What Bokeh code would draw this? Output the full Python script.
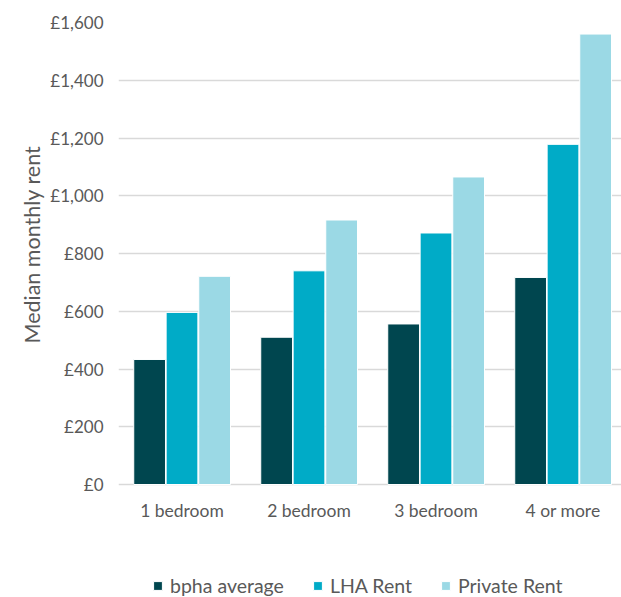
import numpy as np
from bokeh.plotting import figure
from bokeh.models import Range1d, FixedTicker, Legend, LegendItem, Title
from bokeh.core.properties import value
from bokeh.embed import file_html
from bokeh.resources import INLINE

categories = ["1 bedroom", "2 bedroom", "3 bedroom", "4 or more"]
bpha_average = [433, 510, 556, 717]
lha_rent = [596, 740, 871, 1178]
private_rent = [721, 916, 1065, 1560]
series_names = ["bpha average", "LHA Rent", "Private Rent"]
series_colors = ["#00464F", "#00ABC7", "#9BD9E5"]
y_ticks = [0, 200, 400, 600, 800, 1000, 1200, 1400, 1600]
y_tick_labels = ["£0", "£200", "£400", "£600", "£800", "£1,000", "£1,200", "£1,400", "£1,600"]

FONT = "Lato"
TXT = "#595959"
GRID = "#D9D9D9"

W, H = 621, 597
TOP, LEFT = 22, 118
PX_PER_UNIT = 462.0 / 1600.0  # vertical pixels per pound
frame_h = H - TOP
y_min = -(frame_h - 1600 * PX_PER_UNIT) / PX_PER_UNIT
x_max = -0.5 + (W - LEFT) / 127.0

p = figure(width=W, height=H, output_backend="svg", toolbar_location=None,
           x_range=Range1d(-0.5, x_max), y_range=Range1d(y_min, 1600),
           x_axis_location=None,
           min_border_left=LEFT, min_border_right=0, min_border_top=TOP, min_border_bottom=0)
p.outline_line_color = None
p.background_fill_color = "white"

idx = np.arange(len(categories))
offsets = [-0.255, 0.0, 0.257]
renderers = []
for vals, off, col in zip([bpha_average, lha_rent, private_rent], offsets, series_colors):
    r = p.vbar(x=idx + off, top=vals, bottom=0, width=0.25, fill_color=col,
               line_color="white", line_width=1)
    renderers.append(r)

p.xgrid.grid_line_color = None
p.ygrid.grid_line_color = GRID
p.ygrid.grid_line_width = 1.4
p.ygrid.ticker = FixedTicker(ticks=y_ticks)

p.yaxis.ticker = FixedTicker(ticks=y_ticks)
p.yaxis.major_label_overrides = {t: l for t, l in zip(y_ticks, y_tick_labels)}
p.yaxis.axis_line_color = None
p.yaxis.major_tick_line_color = None
p.yaxis.minor_tick_line_color = None
p.yaxis.major_tick_out = 0
p.yaxis.major_tick_in = 0
p.yaxis.major_label_standoff = 15
p.yaxis.major_label_text_font = FONT
p.yaxis.major_label_text_font_size = "17px"
p.yaxis.major_label_text_color = TXT

ytitle = Title(text="Median monthly rent", align="left", offset=254, standoff=5,
               text_font=FONT, text_font_size="21.5px", text_font_style="normal",
               text_color=TXT)
p.add_layout(ytitle, "left")

# category labels under the baseline
label_y = -(510 - 484.3) / PX_PER_UNIT
p.text(x=idx, y=[label_y] * len(categories), text=categories,
       text_font=value(FONT), text_font_size="17.5px", text_color=TXT,
       text_align="center", text_baseline="middle")

legend = Legend(items=[LegendItem(label=n, renderers=[r]) for n, r in zip(series_names, renderers)],
                orientation="horizontal", location=(34, 0))
legend.glyph_width = 11
legend.glyph_height = 11
legend.label_standoff = 7
legend.spacing = 28
legend.padding = 0
legend.margin = 0
legend.border_line_color = None
legend.background_fill_alpha = 0
legend.label_text_font = FONT
legend.label_text_font_size = "19.5px"
legend.label_text_color = TXT
p.add_layout(legend, "center")

open("out.html", "w").write(file_html(p, INLINE))
